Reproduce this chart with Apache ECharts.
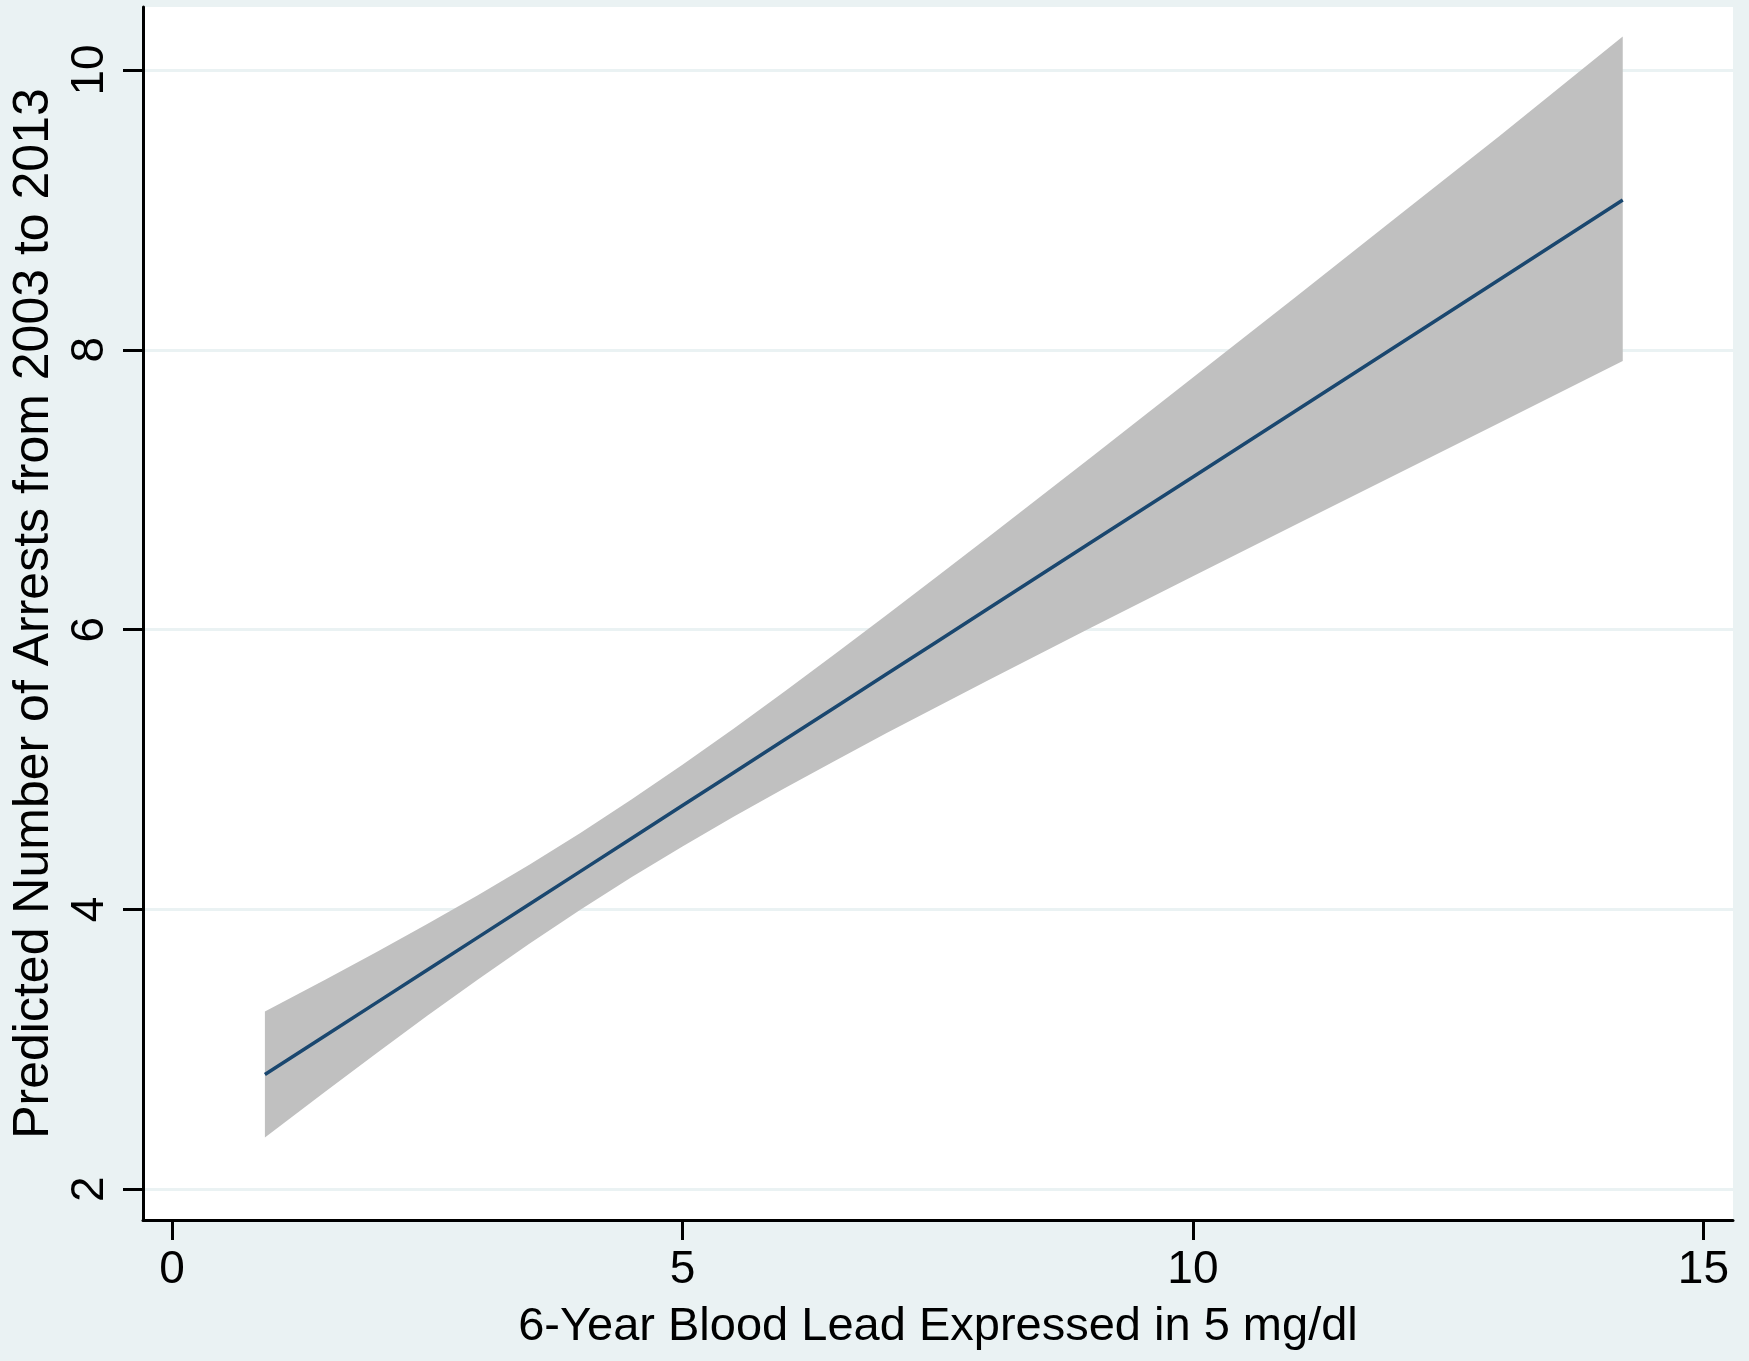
<!DOCTYPE html>
<html>
<head>
<meta charset="utf-8">
<script src="https://cdn.jsdelivr.net/npm/echarts@6/dist/echarts.min.js"></script>
<style>
html,body{margin:0;padding:0;background:#EAF2F3;}
#chart{width:1749px;height:1361px;}
</style>
</head>
<body>
<div id="chart"></div>
<script>
// Blood lead (x, in 5 mg/dl units)
const leadX = [0.91, 1.5, 2, 2.5, 3, 3.5, 4, 4.5, 5, 5.5, 6, 6.5, 7, 7.5, 8, 9, 10, 11, 12, 13, 14.21];
// Predicted number of arrests
const predicted = [2.820, 3.097, 3.332, 3.567, 3.802, 4.037, 4.272, 4.507, 4.742, 4.977, 5.212, 5.447, 5.682, 5.917, 6.152, 6.622, 7.091, 7.561, 8.031, 8.501, 9.070];
// Confidence band
const upperCI = [3.270, 3.497, 3.694, 3.895, 4.103, 4.320, 4.547, 4.785, 5.034, 5.292, 5.558, 5.829, 6.104, 6.383, 6.664, 7.230, 7.801, 8.374, 8.950, 9.526, 10.240];
const lowerCI = [2.370, 2.697, 2.970, 3.239, 3.501, 3.754, 3.997, 4.229, 4.450, 4.662, 4.866, 5.065, 5.260, 5.451, 5.640, 6.014, 6.381, 6.748, 7.112, 7.476, 7.920];
// Tick labels
const xTicks = [0, 5, 10, 15];
const yTicks = [2, 4, 6, 8, 10];

const xTitle = '6-Year Blood Lead Expressed in 5 mg/dl';
const yTitle = 'Predicted Number of Arrests from 2003 to 2013';

const FONT = "'Liberation Sans', Arial, Helvetica, sans-serif";
const BG = '#EAF2F3';

const chart = echarts.init(document.getElementById('chart'), null, {renderer: 'canvas'});

const option = {
  backgroundColor: BG,
  animation: false,
  grid: {
    left: 143, top: 7, right: 16, bottom: 141,
    show: true, backgroundColor: '#FFFFFF', borderWidth: 0
  },
  xAxis: {
    type: 'value',
    min: -0.284, max: 15.29,
    name: xTitle,
    nameLocation: 'middle',
    nameGap: 84,
    nameTextStyle: {color: '#000', fontSize: 47, fontFamily: FONT},
    axisLine: {show: true, onZero: false, lineStyle: {color: '#000', width: 3}},
    axisTick: {show: true, customValues: xTicks, length: 20, lineStyle: {color: '#000', width: 3}},
    axisLabel: {show: true, customValues: xTicks, margin: 27, color: '#000', fontSize: 46, fontFamily: FONT},
    splitLine: {show: false}
  },
  yAxis: {
    type: 'value',
    min: 1.78, max: 10.45,
    name: yTitle,
    nameLocation: 'middle',
    nameRotate: 90,
    nameGap: 77,
    nameTextStyle: {color: '#000', fontSize: 50, fontFamily: FONT},
    axisLine: {show: true, onZero: false, lineStyle: {color: '#000', width: 3}},
    axisTick: {show: true, customValues: yTicks, length: 20, lineStyle: {color: '#000', width: 3}},
    axisLabel: {show: true, customValues: yTicks, rotate: 90, margin: 30, color: '#000', fontSize: 46, fontFamily: FONT},
    splitLine: {show: true, lineStyle: {color: BG, width: 3}}
  },
  series: [
    {
      type: 'custom',
      name: 'CI',
      silent: true,
      z: 1,
      data: [[leadX[0], upperCI[0]]],
      renderItem: function (params, api) {
        if (params.dataIndex !== 0) return null;
        const pts = [];
        for (let i = 0; i < leadX.length; i++) pts.push(api.coord([leadX[i], upperCI[i]]));
        for (let i = leadX.length - 1; i >= 0; i--) pts.push(api.coord([leadX[i], lowerCI[i]]));
        return {
          type: 'polygon',
          shape: {points: pts, smooth: 0},
          style: {fill: '#C0C0C0', stroke: null}
        };
      }
    },
    {
      type: 'line',
      name: 'Predicted',
      z: 3,
      data: leadX.map((x, i) => [x, predicted[i]]),
      showSymbol: false,
      symbol: 'none',
      lineStyle: {color: '#1A476F', width: 3.5},
      silent: true
    }
  ]
};
chart.setOption(option);
</script>
</body>
</html>
